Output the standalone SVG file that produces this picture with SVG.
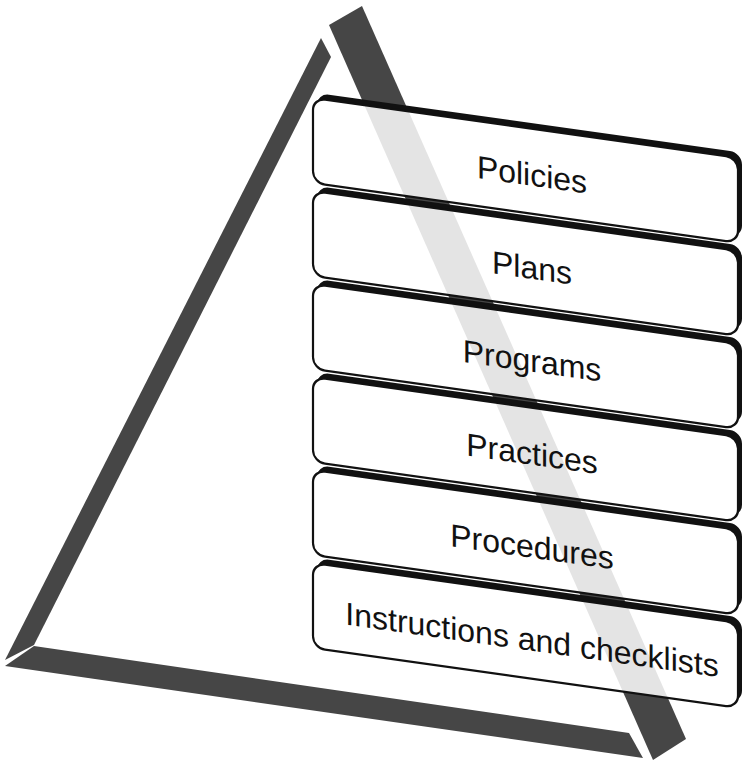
<svg xmlns="http://www.w3.org/2000/svg" width="750" height="763" viewBox="0 0 750 763">
<style>
.bar{fill:#464646}
.sh{fill:#111}
.bx{fill:#fff}
.ol{fill:none;stroke:#111;stroke-width:2.2}
.t{font-family:"Liberation Sans",Arial,sans-serif;font-size:32px;fill:#111;text-anchor:middle}
</style>
<defs>
<rect id="r" x="0" y="0" width="425" height="85" rx="12"/>
<clipPath id="cp">
<use href="#r" transform="translate(313,98) skewY(8)"/>
<use href="#r" transform="translate(313,191) skewY(8)"/>
<use href="#r" transform="translate(313,284) skewY(8)"/>
<use href="#r" transform="translate(313,377) skewY(8)"/>
<use href="#r" transform="translate(313,470) skewY(8)"/>
<use href="#r" transform="translate(313,563) skewY(8)"/>
</clipPath>
</defs>
<g id="frame">
<polygon class="bar" points="321,38 331,57 34,645 5,660"/>
<polygon class="bar" points="34,646 629,733 643,758 5,666"/>
<polygon class="bar" points="329,25 362,6 686,739 653,760"/>
</g>
<g id="boxes">
<g id="b1"><use href="#r" class="sh" transform="translate(317,93) skewY(8)"/><use href="#r" class="bx" transform="translate(313,98) skewY(8)"/></g>
<g id="b2"><use href="#r" class="sh" transform="translate(317,186) skewY(8)"/><use href="#r" class="bx" transform="translate(313,191) skewY(8)"/></g>
<g id="b3"><use href="#r" class="sh" transform="translate(317,279) skewY(8)"/><use href="#r" class="bx" transform="translate(313,284) skewY(8)"/></g>
<g id="b4"><use href="#r" class="sh" transform="translate(317,372) skewY(8)"/><use href="#r" class="bx" transform="translate(313,377) skewY(8)"/></g>
<g id="b5"><use href="#r" class="sh" transform="translate(317,465) skewY(8)"/><use href="#r" class="bx" transform="translate(313,470) skewY(8)"/></g>
<g id="b6"><use href="#r" class="sh" transform="translate(317,558) skewY(8)"/><use href="#r" class="bx" transform="translate(313,563) skewY(8)"/></g>
</g>
<polygon fill="#e4e4e4" clip-path="url(#cp)" points="329,25 362,6 686,739 653,760"/>
<g id="labels">
<g transform="translate(313,98) skewY(8)"><use href="#r" class="ol"/><text class="t" x="219" y="57">Policies</text></g>
<g transform="translate(313,191) skewY(8)"><use href="#r" class="ol"/><text class="t" x="219" y="57">Plans</text></g>
<g transform="translate(313,284) skewY(8)"><use href="#r" class="ol"/><text class="t" x="219" y="57">Programs</text></g>
<g transform="translate(313,377) skewY(8)"><use href="#r" class="ol"/><text class="t" x="219" y="57">Practices</text></g>
<g transform="translate(313,470) skewY(8)"><use href="#r" class="ol"/><text class="t" x="219" y="57">Procedures</text></g>
<g transform="translate(313,563) skewY(8)"><use href="#r" class="ol"/><text class="t" x="219" y="57">Instructions and checklists</text></g>
</g>
</svg>
